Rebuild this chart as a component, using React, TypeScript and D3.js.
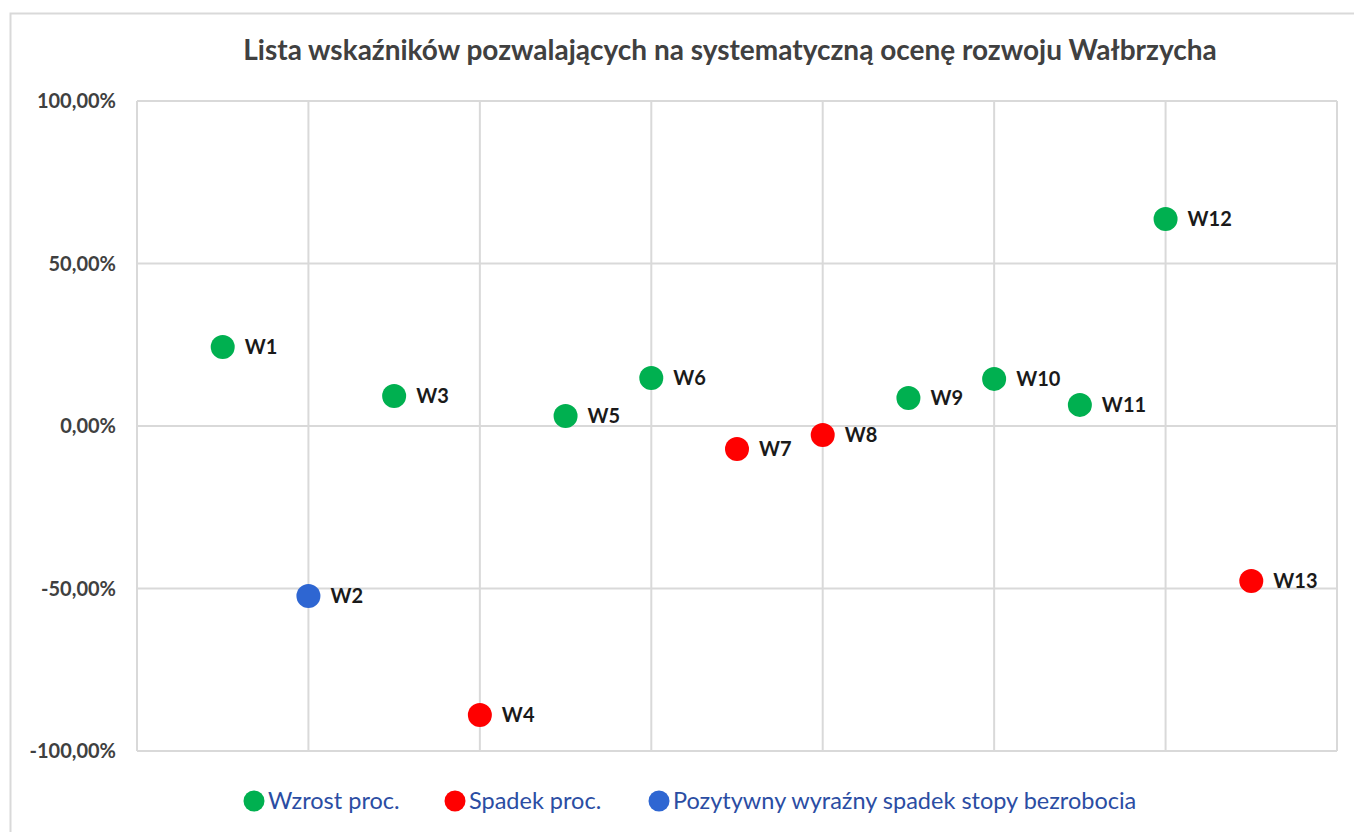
import React, { useEffect, useRef } from 'react';
import * as d3 from 'd3';

const labels = ['W1', 'W2', 'W3', 'W4', 'W5', 'W6', 'W7', 'W8', 'W9', 'W10', 'W11', 'W12', 'W13'];
const positions = [1, 2, 3, 4, 5, 6, 7, 8, 9, 10, 11, 12, 13];
const values = [24.3, -52.3, 9.2, -88.9, 3.1, 14.8, -7.1, -2.8, 8.6, 14.5, 6.5, 63.7, -47.7];
const groups = ['up', 'blue', 'up', 'down', 'up', 'up', 'down', 'down', 'up', 'up', 'up', 'up', 'down'];

const legendKeys = ['up', 'down', 'blue'];
const legendNames = ['Wzrost proc.', 'Spadek proc.', 'Pozytywny wyraźny spadek stopy bezrobocia'];
const legendColors = ['#00B050', '#FF0000', '#2E66D2'];

const yTicks = [-100, -50, 0, 50, 100];
const xGrid = [0, 2, 4, 6, 8, 10, 12, 14];

export default function App() {
    const ref = useRef(null);

    useEffect(() => {
        const width = 1354;
        const height = 832;
        const marginLeft = 137;
        const marginRight = 17;
        const marginTop = 101;
        const marginBottom = 81;

        const svg = d3.select(ref.current);
        svg.selectAll('*').remove();

        const x = d3.scaleLinear().domain([0, 14]).range([marginLeft, width - marginRight]);
        const y = d3.scaleLinear().domain([-100, 100]).range([height - marginBottom, marginTop]);
        const color = d3.scaleOrdinal().domain(legendKeys).range(legendColors);

        svg.append('rect')
            .attr('x', 10.5).attr('y', 13.5)
            .attr('width', width).attr('height', height)
            .attr('fill', '#fff')
            .attr('stroke', '#d9d9d9')
            .attr('stroke-width', 2);

        svg.append('text')
            .attr('x', 730).attr('y', 60)
            .attr('text-anchor', 'middle')
            .attr('font-family', 'Lato, sans-serif')
            .attr('font-weight', 'bold')
            .attr('font-size', 28)
            .attr('fill', '#404040')
            .text('Lista wskaźników pozwalających na systematyczną ocenę rozwoju Wałbrzycha');

        const grid = svg.append('g').attr('stroke', '#d9d9d9').attr('stroke-width', 2);
        grid.selectAll('line.h').data(yTicks).join('line')
            .attr('class', 'h')
            .attr('x1', x(0)).attr('x2', x(14))
            .attr('y1', d => y(d)).attr('y2', d => y(d));
        grid.selectAll('line.v').data(xGrid).join('line')
            .attr('class', 'v')
            .attr('x1', d => x(d)).attr('x2', d => x(d))
            .attr('y1', y(100)).attr('y2', y(-100));

        svg.append('g')
            .selectAll('text').data(yTicks).join('text')
            .attr('x', 116).attr('y', d => y(d))
            .attr('dy', '0.35em')
            .attr('text-anchor', 'end')
            .attr('font-family', 'Lato, sans-serif')
            .attr('font-weight', 'bold')
            .attr('font-size', 20)
            .attr('fill', '#404040')
            .text(d => d3.format('.2f')(d).replace('.', ',').replace('\u2212', '-') + '%');

        const pts = svg.append('g')
            .selectAll('g').data(labels).join('g')
            .attr('transform', (d, i) => `translate(${x(positions[i])},${y(values[i])})`);
        pts.append('circle')
            .attr('r', 12)
            .attr('fill', (d, i) => color(groups[i]));
        pts.append('text')
            .attr('x', 22).attr('dy', '0.35em')
            .attr('font-family', 'Lato, sans-serif')
            .attr('font-weight', 'bold')
            .attr('font-size', 20)
            .attr('fill', '#1a1a1a')
            .text(d => d);

        const legendX = [254, 455, 659];
        const leg = svg.append('g')
            .selectAll('g').data(legendNames).join('g')
            .attr('transform', (d, i) => `translate(${legendX[i]},801)`);
        leg.append('circle').attr('r', 10.5).attr('fill', (d, i) => legendColors[i]);
        leg.append('text')
            .attr('x', 14).attr('dy', '0.35em')
            .attr('font-family', 'Lato, sans-serif')
            .attr('font-size', 23.5)
            .attr('fill', '#2B4DA3')
            .text(d => d);
    }, []);

    return (
        <svg ref={ref} width={1354} height={832}
            style={{ position: 'absolute', left: 0, top: 0, display: 'block' }} />
    );
}
